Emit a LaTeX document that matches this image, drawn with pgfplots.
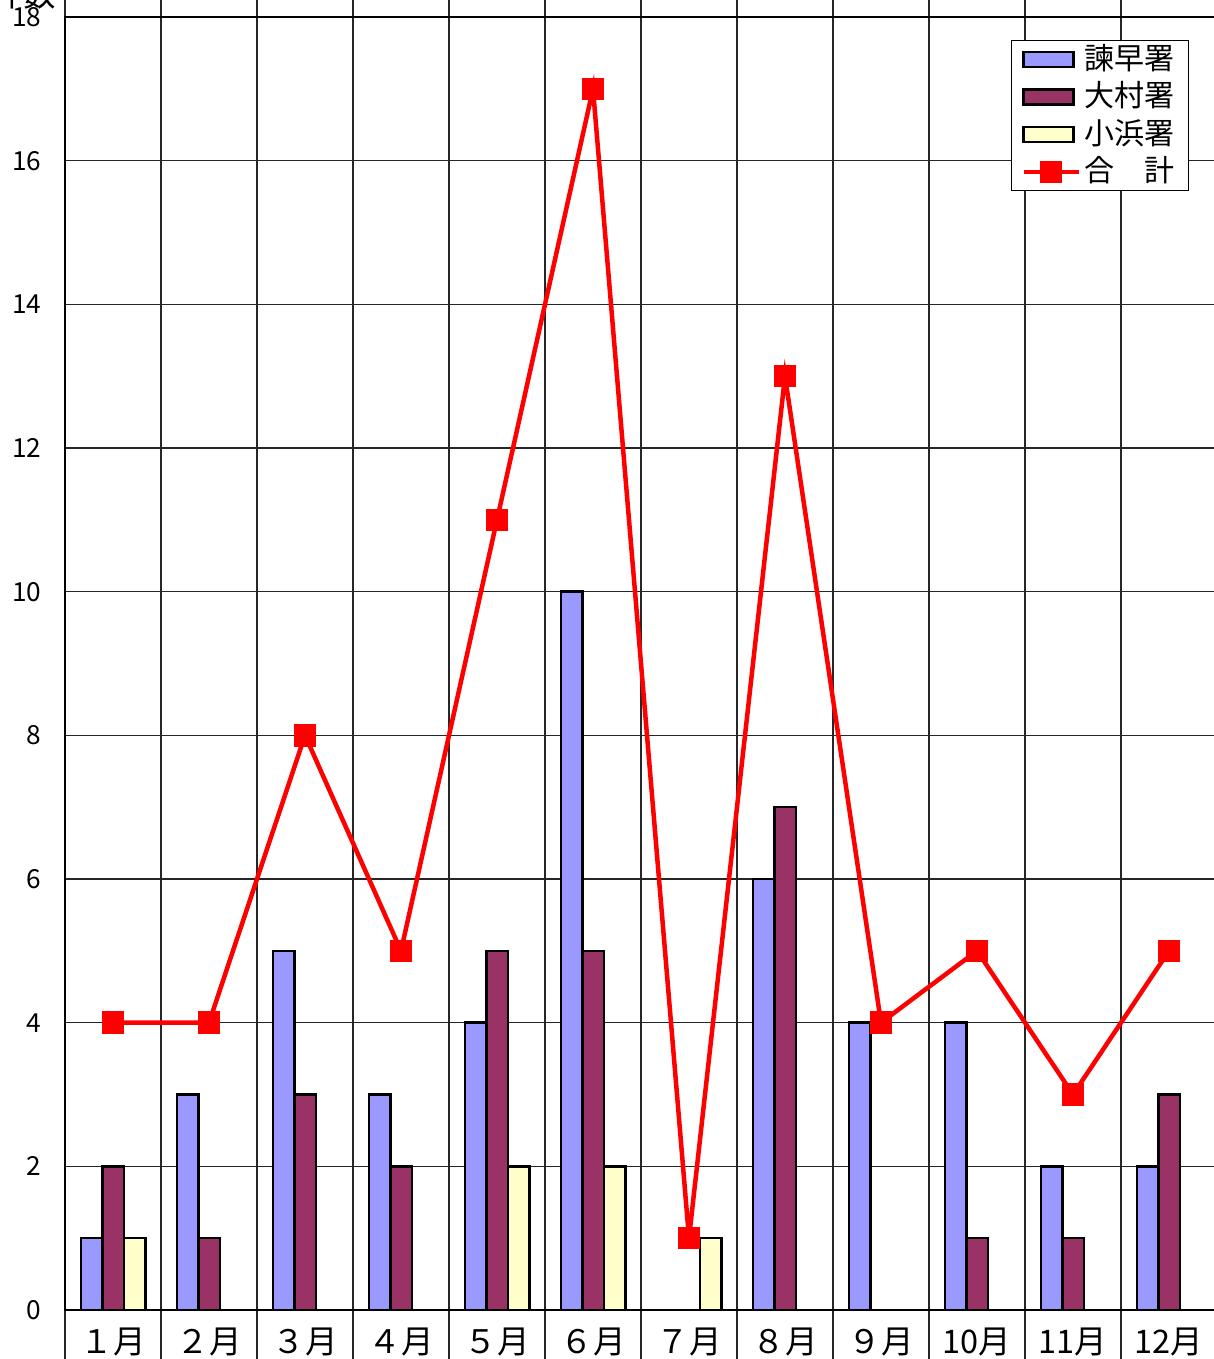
\documentclass[border=0pt]{standalone}
\usepackage{fontspec}
\setmainfont{Noto Sans CJK JP}
\usepackage{pgfplots}
\pgfplotsset{compat=1.18}
\definecolor{isa}{HTML}{9999FF}
\definecolor{omu}{HTML}{993366}
\definecolor{oba}{HTML}{FFFFCC}
\begin{document}
\begin{tikzpicture}
\begin{axis}[
  scale only axis, width=460.8pt, height=517.2pt,
  xmin=0.5, xmax=12.5, ymin=0, ymax=18,
  xtick={1,...,12},
  xticklabels={１月,２月,３月,４月,５月,６月,７月,８月,９月,10月,11月,12月},
  minor xtick={0.5,1.5,...,12.5},
  ytick={0,2,...,18},
  xminorgrids, ymajorgrids,
  minor grid style={black!85, line width=0.5pt},
  major grid style={black!85, line width=0.5pt},
  axis line style={black, line width=0.6pt},
  tick align=outside,
  major tick length=0pt,
  minor tick length=24pt,
  every minor tick/.style={black!85, line width=0.5pt},
  /pgf/number format/assume math mode=true,
  xticklabel style={font=\fontsize{13}{13}\selectfont, anchor=base, yshift=-17.6pt},
  yticklabel style={font=\fontsize{10.5}{10.5}\selectfont, xshift=-6pt},
  ylabel={件数},
  ylabel style={rotate=-90, at={(axis description cs:-0.036,1.018)}, anchor=center, font=\fontsize{13}{13}\selectfont},
  legend style={at={(0.9757,0.9822)}, anchor=north east, draw=black, line width=0.5pt,
    font=\fontsize{12}{14}\selectfont, row sep=0pt, inner xsep=4pt, inner ysep=0pt,
    nodes={text height=10pt, text depth=2pt, inner sep=1.5pt}},
  legend cell align=left,
]
\addplot[ybar, bar width=8.6pt, bar shift=-8.6pt, fill=isa, draw=black, line width=1pt,
  legend image code/.code={\draw[fill=isa, draw=black, line width=1pt] (0pt,-3pt) rectangle (20pt,3pt);}]
  coordinates {(1,1) (2,3) (3,5) (4,3) (5,4) (6,10) (8,6) (9,4) (10,4) (11,2) (12,2)};
\addlegendentry{諫早署}
\addplot[ybar, bar width=8.6pt, bar shift=0pt, fill=omu, draw=black, line width=1pt,
  legend image code/.code={\draw[fill=omu, draw=black, line width=1pt] (0pt,-3pt) rectangle (20pt,3pt);}]
  coordinates {(1,2) (2,1) (3,3) (4,2) (5,5) (6,5) (8,7) (10,1) (11,1) (12,3)};
\addlegendentry{大村署}
\addplot[ybar, bar width=8.6pt, bar shift=8.6pt, fill=oba, draw=black, line width=1pt,
  legend image code/.code={\draw[fill=oba, draw=black, line width=1pt] (0pt,-3pt) rectangle (20pt,3pt);}]
  coordinates {(1,1) (5,2) (6,2) (7,1)};
\addlegendentry{小浜署}
\addplot[red, line width=1.8pt, mark=square*, mark size=3.6pt, mark options={solid, fill=red},
  legend image code/.code={\draw[red, line width=1.8pt] (0pt,0pt) -- (22pt,0pt); \fill[red] (7.6pt,-3.4pt) rectangle (14.4pt,3.4pt);}]
  coordinates {(1,4) (2,4) (3,8) (4,5) (5,11) (6,17) (7,1) (8,13) (9,4) (10,5) (11,3) (12,5)};
\addlegendentry{合　計}
\end{axis}
\pgfresetboundingbox
\useasboundingbox ([xshift=-26pt,yshift=-19.6pt]current axis.south west) rectangle ([xshift=-1.6pt,yshift=6.8pt]current axis.north east);
\end{tikzpicture}
\end{document}
